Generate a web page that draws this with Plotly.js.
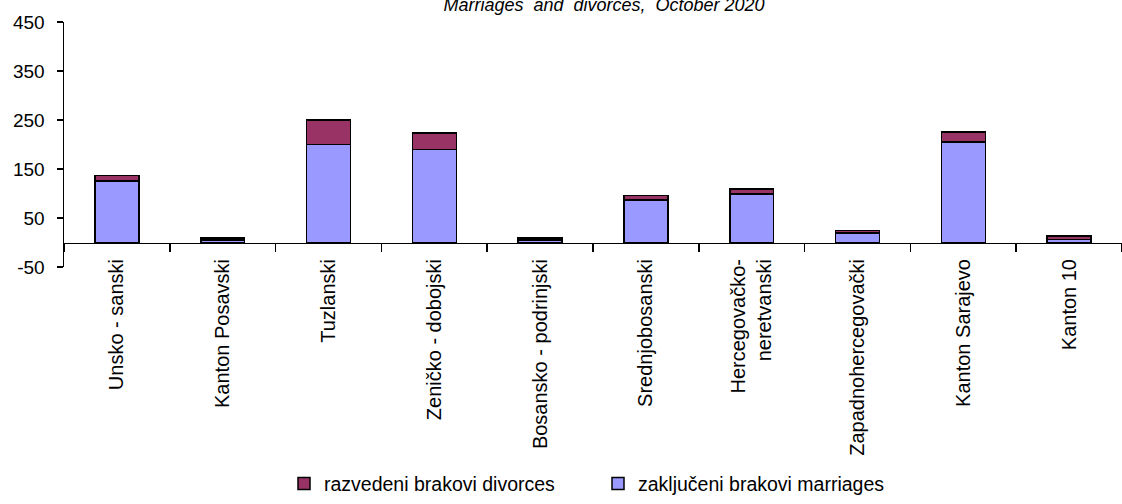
<!DOCTYPE html>
<html>
<head>
<meta charset="utf-8">
<script src="https://cdn.plot.ly/plotly-3.0.1.min.js"></script>
<style>html,body{margin:0;padding:0;background:#fff;}#chart{width:1122px;height:504px;}</style>
</head>
<body>
<div id="chart"></div>
<script>
const cantons = ["Unsko - sanski", "Kanton Posavski", "Tuzlanski", "Zeničko - dobojski", "Bosansko - podrinjski", "Srednjobosanski", "Hercegovačko-<br>neretvanski", "Zapadnohercegovački", "Kanton Sarajevo", "Kanton 10"];
const marriages = [126, 5, 200, 190, 5, 87, 99, 19, 205, 6];
const divorces = [11, 4, 50, 33, 4, 9, 10, 5, 21, 7];
const yTicks = [-50, 50, 150, 250, 350, 450];
const titleText = "Marriages&nbsp; and&nbsp; divorces,&nbsp; October 2020";

const FONT = "Liberation Sans, Arial, sans-serif";

const data = [
  {type: "bar", name: "zaključeni brakovi marriages", x: cantons, y: marriages,
   marker: {color: "#9999FF", line: {color: "#000000", width: 1.5}}},
  {type: "bar", name: "razvedeni brakovi divorces", x: cantons, y: divorces,
   marker: {color: "#993366", line: {color: "#000000", width: 1.5}}}
];

const layout = {
  width: 1122, height: 504,
  margin: {l: 64, r: 0, t: 22, b: 232, pad: 0},
  paper_bgcolor: "#ffffff", plot_bgcolor: "#ffffff",
  barmode: "stack", bargap: 0.585,
  font: {family: FONT, color: "#000000", size: 19},
  title: {text: titleText, font: {family: FONT, size: 18, style: "italic", color: "#000"},
          x: 604/1122, xanchor: "center", xref: "container",
          y: 1 - 11/504, yanchor: "bottom", yref: "container"},
  showlegend: true,
  legend: {orientation: "h", traceorder: "reversed", x: (284-64)/1058, xanchor: "left",
           y: -0.885, yanchor: "middle", font: {family: FONT, size: 19.5}, itemwidth: 30,
           entrywidth: 269, entrywidthmode: "pixels"},
  xaxis: {type: "category", anchor: "free", position: 0.1,
          showline: true, linecolor: "#000", linewidth: 1.5,
          ticks: "outside", tickson: "boundaries", ticklen: 8, tickwidth: 1.5, tickcolor: "#000",
          tickangle: -90, tickfont: {family: FONT, size: 20}, ticklabelstandoff: 7,
          showgrid: false, zeroline: false, fixedrange: true},
  yaxis: {range: [-50, 450], tickvals: yTicks, ticktext: yTicks.map(String),
          showline: true, linecolor: "#000", linewidth: 1.5,
          ticks: "outside", ticklen: 6, tickwidth: 1.5, tickcolor: "#000",
          tickfont: {family: FONT, size: 19}, ticklabelstandoff: 8,
          showgrid: false, zeroline: false, fixedrange: true}
};

Plotly.newPlot("chart", data, layout, {displayModeBar: false, staticPlot: true});
</script>
</body>
</html>
